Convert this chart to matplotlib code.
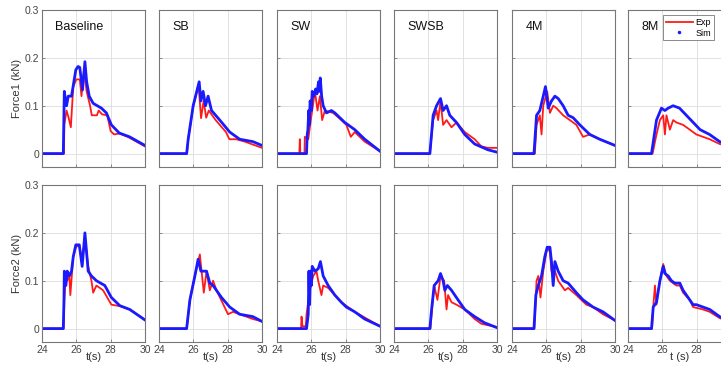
import numpy as np
import matplotlib
matplotlib.use('Agg')
import matplotlib.pyplot as plt

plt.rcParams['font.family'] = ['Liberation Sans', 'DejaVu Sans']

cases = ['Baseline', 'SB', 'SW', 'SWSB', '4M', '8M']
xticks = [24, 26, 28, 30]
yticks = [0, 0.1, 0.2, 0.3]
ytick_labels = ['0', '0.1', '0.2', '0.3']

# (t, force) pairs, force1 = top row
base1_exp = [(24, 0), (25.28, 0), (25.30, 0.06), (25.43, 0.09), (25.55, 0.075), (25.68, 0.055), (25.82, 0.14),
             (26.0, 0.155), (26.2, 0.155), (26.3, 0.12), (26.45, 0.175), (26.6, 0.13), (26.8, 0.10), (26.9, 0.08),
             (27.2, 0.08), (27.3, 0.09), (27.5, 0.082), (27.8, 0.08), (28.0, 0.047), (28.2, 0.04), (28.5, 0.042),
             (29.0, 0.035), (29.5, 0.025), (30, 0.015)]
base1_sim = [(24, 0), (25.24, 0), (25.30, 0.13), (25.38, 0.11), (25.43, 0.10), (25.53, 0.12), (25.72, 0.12),
             (25.97, 0.175), (26.1, 0.182), (26.2, 0.18), (26.36, 0.133), (26.5, 0.192), (26.6, 0.15),
             (26.75, 0.12), (26.98, 0.105), (27.46, 0.095), (27.75, 0.085), (28.04, 0.06), (28.5, 0.043),
             (29.1, 0.035), (30, 0.017)]
sb1_exp = [(24, 0), (25.63, 0), (25.7, 0.03), (26.0, 0.10), (26.3, 0.145), (26.45, 0.074), (26.6, 0.11),
           (26.75, 0.075), (26.9, 0.09), (27.3, 0.07), (27.9, 0.045), (28.1, 0.03), (28.5, 0.03), (29.0, 0.025),
           (30, 0.012)]
sb1_sim = [(24, 0), (25.61, 0), (25.70, 0.03), (25.99, 0.10), (26.34, 0.15), (26.44, 0.11), (26.57, 0.13),
           (26.71, 0.10), (26.86, 0.12), (27.06, 0.09), (27.54, 0.07), (28.12, 0.045), (28.70, 0.03),
           (29.47, 0.025), (30, 0.017)]
sw1_exp = [(24, 0), (25.30, 0), (25.33, 0.03), (25.36, 0.0), (25.60, 0.0), (25.62, 0.035), (25.82, 0.03),
           (26.01, 0.08), (26.21, 0.13), (26.36, 0.09), (26.50, 0.12), (26.63, 0.07), (26.79, 0.09),
           (27.27, 0.085), (27.75, 0.07), (28.04, 0.06), (28.3, 0.035), (28.53, 0.045), (29.11, 0.025), (30, 0.005)]
sw1_sim = [(24, 0), (25.72, 0), (25.76, 0.04), (25.80, 0.05), (25.85, 0.09), (25.88, 0.06), (25.93, 0.11),
           (26.0, 0.09), (26.05, 0.13), (26.15, 0.12), (26.25, 0.135), (26.33, 0.125), (26.42, 0.15),
           (26.48, 0.13), (26.52, 0.158), (26.6, 0.12), (26.69, 0.10), (26.88, 0.085), (27.17, 0.09),
           (27.37, 0.085), (27.95, 0.065), (28.53, 0.05), (29.11, 0.03), (30, 0.005)]
swsb1_exp = [(24, 0), (26.09, 0), (26.28, 0.07), (26.48, 0.09), (26.57, 0.07), (26.71, 0.11), (26.86, 0.06),
             (27.06, 0.07), (27.35, 0.055), (27.64, 0.065), (28.12, 0.045), (28.70, 0.03), (29.09, 0.015),
             (29.47, 0.012), (30, 0.012)]
swsb1_sim = [(24, 0), (26.09, 0), (26.28, 0.08), (26.48, 0.10), (26.71, 0.115), (26.86, 0.09), (27.06, 0.10),
             (27.25, 0.08), (27.64, 0.065), (28.12, 0.04), (28.70, 0.02), (29.47, 0.008), (30, 0.003)]
m4_1_exp = [(24, 0), (25.33, 0), (25.43, 0.06), (25.62, 0.08), (25.72, 0.04), (25.82, 0.10), (26.05, 0.13),
            (26.21, 0.085), (26.40, 0.10), (26.59, 0.095), (26.98, 0.08), (27.37, 0.07), (27.75, 0.06),
            (28.14, 0.035), (28.53, 0.04), (29.11, 0.03), (30, 0.017)]
m4_1_sim = [(24, 0), (25.28, 0), (25.43, 0.08), (25.62, 0.09), (25.82, 0.12), (25.95, 0.14), (26.11, 0.095),
            (26.30, 0.11), (26.50, 0.12), (26.69, 0.115), (26.98, 0.10), (27.27, 0.08), (27.56, 0.075),
            (27.95, 0.06), (28.53, 0.04), (29.11, 0.03), (30, 0.017)]
m8_1_exp = [(24, 0), (25.43, 0), (25.66, 0.04), (25.86, 0.07), (26.05, 0.08), (26.15, 0.04), (26.24, 0.08),
            (26.44, 0.05), (26.63, 0.07), (26.82, 0.065), (27.21, 0.06), (27.60, 0.05), (27.98, 0.04),
            (28.37, 0.035), (28.76, 0.03), (29.34, 0.02), (30, 0.015)]
m8_1_sim = [(24, 0), (25.37, 0), (25.66, 0.07), (25.95, 0.095), (26.15, 0.09), (26.34, 0.095), (26.63, 0.10),
            (27.0, 0.095), (27.4, 0.08), (27.8, 0.065), (28.2, 0.05), (28.75, 0.04), (29.34, 0.025), (30, 0.015)]

# force2 = bottom row
base2_exp = [(24, 0), (25.26, 0), (25.30, 0.06), (25.39, 0.11), (25.47, 0.10), (25.59, 0.11), (25.65, 0.07),
             (25.82, 0.15), (25.97, 0.17), (26.17, 0.175), (26.34, 0.14), (26.50, 0.19), (26.69, 0.13),
             (26.88, 0.10), (26.98, 0.075), (27.17, 0.09), (27.56, 0.08), (28.04, 0.05), (28.53, 0.047),
             (29.11, 0.04), (30, 0.018)]
base2_sim = [(24, 0), (25.24, 0), (25.28, 0.06), (25.30, 0.12), (25.39, 0.09), (25.47, 0.12), (25.59, 0.11),
             (25.72, 0.12), (25.82, 0.15), (25.97, 0.175), (26.17, 0.175), (26.34, 0.13), (26.50, 0.20),
             (26.69, 0.12), (26.88, 0.11), (27.17, 0.10), (27.66, 0.09), (28.04, 0.065), (28.53, 0.048),
             (29.11, 0.04), (30, 0.018)]
sb2_exp = [(24, 0), (25.61, 0), (25.80, 0.06), (26.09, 0.11), (26.38, 0.155), (26.48, 0.12), (26.61, 0.075),
           (26.77, 0.12), (26.96, 0.08), (27.15, 0.10), (27.35, 0.08), (28.02, 0.03), (28.31, 0.035),
           (28.70, 0.03), (29.47, 0.02), (30, 0.015)]
sb2_sim = [(24, 0), (25.61, 0), (25.80, 0.06), (26.09, 0.11), (26.28, 0.145), (26.44, 0.12), (26.57, 0.12),
           (26.77, 0.12), (26.96, 0.095), (27.15, 0.09), (27.64, 0.065), (28.12, 0.045), (28.70, 0.03),
           (29.47, 0.025), (30, 0.015)]
sw2_exp = [(24, 0), (25.40, 0), (25.43, 0.025), (25.48, 0.005), (25.68, 0.005), (25.72, 0.03), (25.91, 0.08),
           (26.11, 0.11), (26.30, 0.12), (26.40, 0.10), (26.59, 0.07), (26.69, 0.09), (26.98, 0.085),
           (27.75, 0.055), (28.53, 0.035), (30, 0.005)]
sw2_sim = [(24, 0), (25.72, 0), (25.82, 0.03), (25.86, 0.12), (25.90, 0.05), (25.95, 0.12), (26.0, 0.09),
           (26.05, 0.13), (26.21, 0.12), (26.40, 0.125), (26.53, 0.14), (26.69, 0.11), (26.98, 0.09),
           (27.37, 0.07), (27.75, 0.055), (28.04, 0.045), (28.53, 0.035), (29.11, 0.02), (30, 0.005)]
swsb2_exp = [(24, 0), (26.12, 0), (26.19, 0.03), (26.34, 0.09), (26.53, 0.06), (26.71, 0.11), (26.92, 0.10),
             (27.06, 0.04), (27.15, 0.07), (27.35, 0.055), (27.64, 0.05), (28.12, 0.04), (28.70, 0.02),
             (29.09, 0.01), (30, 0.003)]
swsb2_sim = [(24, 0), (26.09, 0), (26.19, 0.04), (26.34, 0.09), (26.57, 0.10), (26.71, 0.115), (26.86, 0.10),
             (26.96, 0.08), (27.11, 0.09), (27.35, 0.08), (27.73, 0.06), (28.12, 0.04), (28.70, 0.025),
             (29.28, 0.012), (30, 0.002)]
m4_2_exp = [(24, 0), (25.30, 0), (25.43, 0.10), (25.53, 0.11), (25.66, 0.065), (25.82, 0.12), (26.05, 0.17),
            (26.21, 0.16), (26.30, 0.12), (26.50, 0.12), (26.69, 0.10), (27.08, 0.08), (27.27, 0.085),
            (27.75, 0.07), (28.33, 0.05), (28.72, 0.045), (29.30, 0.03), (30, 0.017)]
m4_2_sim = [(24, 0), (25.28, 0), (25.39, 0.07), (25.53, 0.09), (25.72, 0.11), (25.91, 0.15), (26.05, 0.17),
            (26.21, 0.17), (26.30, 0.14), (26.40, 0.09), (26.50, 0.14), (26.69, 0.12), (26.98, 0.10),
            (27.27, 0.095), (27.75, 0.075), (28.14, 0.06), (28.72, 0.045), (29.30, 0.035), (30, 0.017)]
m8_2_exp = [(24, 0), (25.40, 0), (25.47, 0.045), (25.57, 0.09), (25.66, 0.05), (25.76, 0.08), (26.05, 0.135),
            (26.24, 0.11), (26.44, 0.10), (26.82, 0.09), (27.02, 0.09), (27.21, 0.075), (27.60, 0.06),
            (27.79, 0.045), (28.37, 0.04), (28.76, 0.035), (29.34, 0.022), (30, 0.012)]
m8_2_sim = [(24, 0), (25.37, 0), (25.47, 0.045), (25.66, 0.055), (25.86, 0.10), (26.05, 0.13), (26.15, 0.115),
            (26.34, 0.11), (26.53, 0.10), (26.73, 0.095), (27.02, 0.095), (27.21, 0.08), (27.50, 0.065),
            (27.79, 0.05), (27.98, 0.05), (28.37, 0.045), (28.76, 0.04), (29.34, 0.025), (30, 0.012)]

exp_rows = [[base1_exp, sb1_exp, sw1_exp, swsb1_exp, m4_1_exp, m8_1_exp],
            [base2_exp, sb2_exp, sw2_exp, swsb2_exp, m4_2_exp, m8_2_exp]]
sim_rows = [[base1_sim, sb1_sim, sw1_sim, swsb1_sim, m4_1_sim, m8_1_sim],
            [base2_sim, sb2_sim, sw2_sim, swsb2_sim, m4_2_sim, m8_2_sim]]
ylabels = ['Force1 (kN)', 'Force2 (kN)']

W, H = 721, 365
fig = plt.figure(figsize=(W / 100, H / 100), dpi=100)

col_left = [42, 159, 277, 394, 512, 628]   # pixels, last column runs off the page
row_top = [10, 185]
aw, ah = 103, 157

for r in range(2):
    for c in range(6):
        ax = fig.add_axes([col_left[c] / W, (H - row_top[r] - ah) / H, aw / W, ah / H])
        e = np.array(exp_rows[r][c])
        s = np.array(sim_rows[r][c])
        ax.plot(e[:, 0], e[:, 1], color='#ff1a1a', lw=1.3)
        ax.plot(s[:, 0], s[:, 1], color='#1a1aff', lw=2.0)
        ax.set_xlim(24, 30)
        ax.set_ylim(-0.028, 0.3)
        ax.set_xticks(xticks)
        ax.set_yticks(yticks)
        ax.grid(True, color='#dddddd', lw=0.6)
        ax.tick_params(direction='in', length=2.5, width=0.6, colors='#777777',
                       labelcolor='#444444', labelsize=7.5, pad=2)
        for sp in ax.spines.values():
            sp.set_color('#777777')
            sp.set_linewidth(0.8)
        if c == 0:
            ax.set_yticklabels(ytick_labels)
            ax.set_ylabel(ylabels[r], fontsize=8, color='#333333', labelpad=2)
        else:
            ax.set_yticklabels([])
        if r == 1:
            # last panel is cut by the page edge, its "30" falls outside
            ax.set_xticklabels([str(t) for t in xticks[:3]] + ([''] if c == 5 else ['30']))
            ax.set_xlabel('t (s)' if c == 5 else 't(s)', fontsize=8, color='#333333', labelpad=-2)
        else:
            ax.set_xticklabels([])
            ax.text(0.13, 0.89, cases[c], transform=ax.transAxes, fontsize=9,
                    color='#111111', va='center', ha='left')
        if r == 0 and c == 5:
            leg = ax.legend(handles=[ax.lines[0],
                                     plt.Line2D([], [], color='#1a1aff', marker='.', ls='none', ms=3)],
                            labels=['Exp', 'Sim'],
                            loc='upper left', bbox_to_anchor=(663 / W, 1 - 15 / H),
                            bbox_transform=fig.transFigure, borderaxespad=0, fontsize=6.5,
                            handlelength=3.0, handletextpad=0.3, borderpad=0.3, labelspacing=0.2,
                            fancybox=False, framealpha=1)
            leg.get_frame().set_edgecolor('#777777')
            leg.get_frame().set_linewidth(0.6)

fig.savefig('out.png', dpi=100)
